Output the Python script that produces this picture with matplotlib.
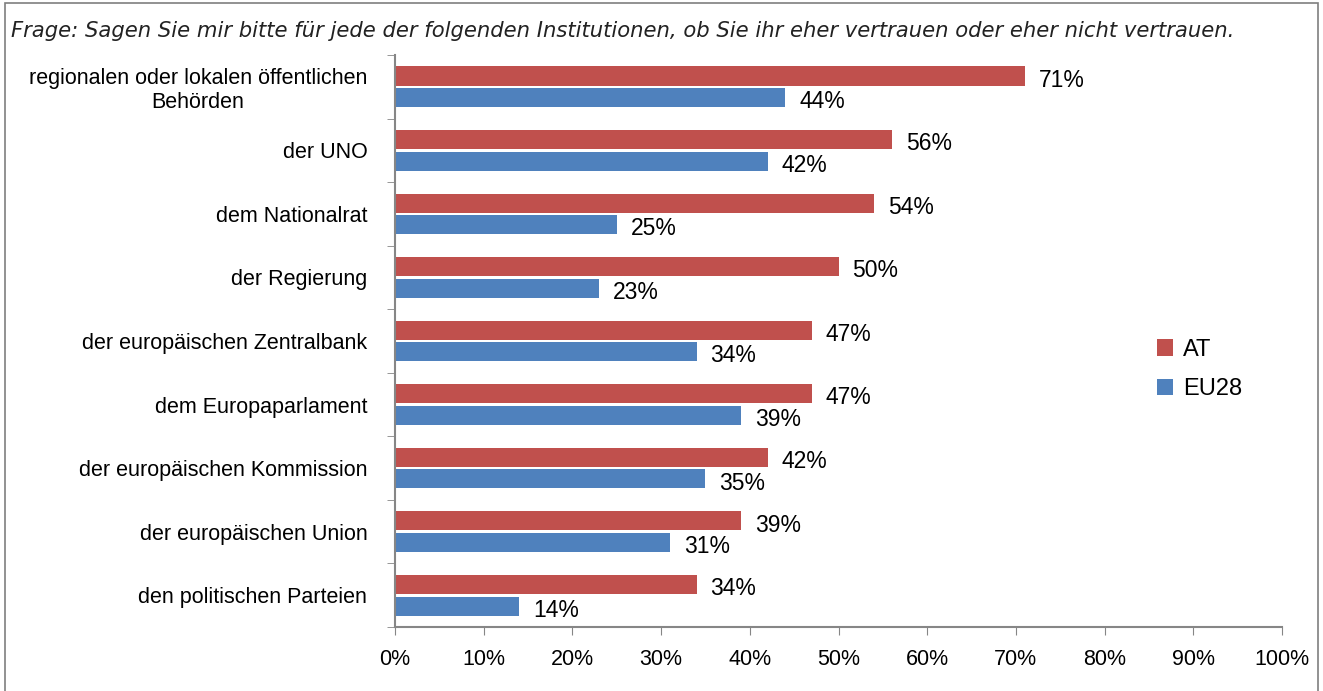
import matplotlib.pyplot as plt
from matplotlib.patches import Rectangle
from matplotlib.ticker import FixedLocator

TITLE = ('Frage: Sagen Sie mir bitte für jede der folgenden Institutionen, '
         'ob Sie ihr eher vertrauen oder eher nicht vertrauen.')
CATEGORIES = ['regionalen oder lokalen öffentlichen\nBehörden', 'der UNO', 'dem Nationalrat',
              'der Regierung', 'der europäischen Zentralbank', 'dem Europaparlament',
              'der europäischen Kommission', 'der europäischen Union', 'den politischen Parteien']
AT = [71, 56, 54, 50, 47, 47, 42, 39, 34]
EU28 = [44, 42, 25, 23, 34, 39, 35, 31, 14]
SERIES = ['AT', 'EU28']
COLORS = ['#C0504D', '#4F81BD']
XTICKS = [0, 10, 20, 30, 40, 50, 60, 70, 80, 90, 100]

plt.rcParams['font.family'] = ['Liberation Sans', 'DejaVu Sans']

fig = plt.figure(figsize=(13.23, 6.91), dpi=100)
ax = fig.add_axes([0.2986, 0.0926, 0.6704, 0.8278])

# 画边框
fig.patches.append(Rectangle((0.004, -0.01), 0.9925, 1.006, transform=fig.transFigure,
                             fill=False, edgecolor='#7f7f7f', linewidth=1.2))

y = range(len(CATEGORIES))
h = 0.3
off = 0.17
for vals, name, color, d in zip([AT, EU28], SERIES, COLORS, [-off, off]):
    pos = [v + d for v in y]
    ax.barh(pos, vals, height=h, color=color, label=name)
    for p, v in zip(pos, vals):
        ax.annotate(f'{v}%', (v, p), textcoords='offset points', xytext=(10, -3),
                    ha='left', va='center', fontsize=16.5)

ax.set_xlim(0, 100)
ax.set_ylim(len(CATEGORIES) - 0.5, -0.5)
ax.set_xticks(XTICKS, [f'{t}%' for t in XTICKS], fontsize=15.5)
ax.set_yticks(list(y), CATEGORIES, fontsize=15.5, multialignment='center')
ax.yaxis.set_minor_locator(FixedLocator([i - 0.5 for i in range(len(CATEGORIES) + 1)]))
ax.tick_params(axis='y', which='major', length=0, pad=20)
ax.tick_params(axis='y', which='minor', length=6, color='#868686')
ax.tick_params(axis='x', length=6, color='#868686', pad=10)
for s in ['top', 'right']:
    ax.spines[s].set_visible(False)
for s in ['left', 'bottom']:
    ax.spines[s].set_color('#868686')
    ax.spines[s].set_linewidth(1.5)

ax.legend(loc='center left', bbox_to_anchor=(0.835, 0.45), frameon=False, fontsize=17,
          handlelength=0.7, handleheight=0.7, handletextpad=0.4, labelspacing=0.75)

fig.text(0.008, 0.955, TITLE, fontsize=15.2, style='italic', family='DejaVu Sans',
         color='#222222', ha='left', va='center')

fig.savefig('out.png', dpi=100)
